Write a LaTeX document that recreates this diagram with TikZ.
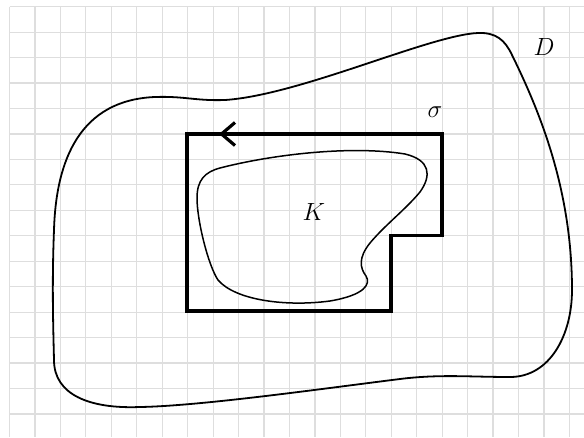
\documentclass[tikz,border=0pt]{standalone}
\begin{document}
\begin{tikzpicture}[x=1pt,y=-1pt,
  gridline/.style={draw=black!13,line width=1.2pt},
  regionD/.style={draw=black,line width=1.8pt},
  regionK/.style={draw=black,line width=1.5pt},
  contour/.style={draw=black,line width=3.6pt,line join=miter},
  lbl/.style={inner sep=0pt,font=\fontsize{24}{28}\selectfont}]
\useasboundingbox (0,0) rectangle (584,437);
% grid
\foreach \i in {0,...,22} {\draw[gridline] ({9.5+25.45*\i},6.7) -- ({9.5+25.45*\i},437);}
\foreach \j in {0,...,16} {\draw[gridline] (9.5,{6.7+25.45*\j}) -- (584,{6.7+25.45*\j});}
% region D
\draw[regionD] (478,33) .. controls (496,32.3) and (505,40) .. (512,55)
  .. controls (540,112) and (572,190) .. (572,290)
  .. controls (572,335) and (550,377) .. (510,377)
  .. controls (470,377) and (440,374) .. (400,379)
  .. controls (320,389) and (200,406) .. (140,407)
  .. controls (90,409) and (54,395) .. (54,360)
  .. controls (53,320) and (52,280) .. (54,230)
  .. controls (56,160) and (80,100) .. (155,97)
  .. controls (185,96) and (195,101) .. (225,100)
  .. controls (300,95) and (430,35) .. (478,33) -- cycle;
% compact set K
\draw[regionK] (220,168) .. controls (270,155) and (350,145) .. (405,154)
  .. controls (430,160) and (432,175) .. (420,192)
  .. controls (405,210) and (385,225) .. (370,243)
  .. controls (358,258) and (360,268) .. (366,276)
  .. controls (371,284) and (365,295) .. (330,301)
  .. controls (285,307) and (235,300) .. (218,280)
  .. controls (208,265) and (197,220) .. (197,198)
  .. controls (197,180) and (205,172) .. (220,168) -- cycle;
% contour sigma
\coordinate (s1) at (187,134);
\coordinate (s2) at (442,134);
\coordinate (s3) at (442,235.5);
\coordinate (s4) at (391,235.5);
\coordinate (s5) at (391,311);
\coordinate (s6) at (187,311);
\draw[contour] (s1) -- (s2) -- (s3) -- (s4) -- (s5) -- (s6) -- cycle;
\coordinate (a1) at (235,122.5);
\coordinate (a2) at (221.5,134);
\coordinate (a3) at (235,145.5);
\draw[contour,line width=3.2pt] (a1) -- (a2) -- (a3);
% labels
\node[lbl] (D) at (544,47) {$D$};
\node[lbl] (sigma) at (435,112) {$\sigma$};
\node[lbl] (K) at (314,212) {$K$};
\end{tikzpicture}
\end{document}
